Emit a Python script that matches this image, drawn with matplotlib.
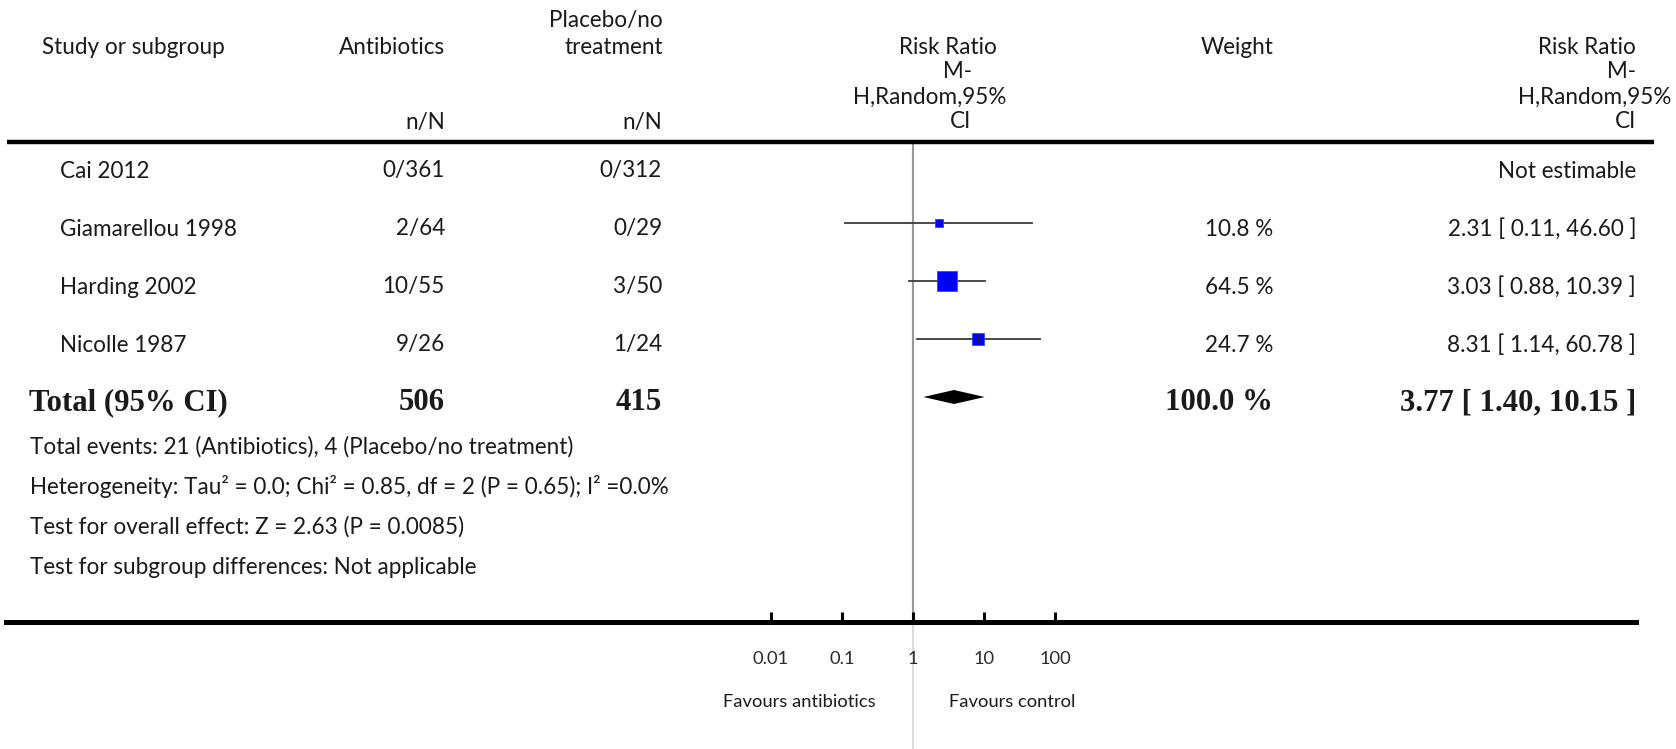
import matplotlib
matplotlib.use("Agg")
import matplotlib.pyplot as plt
import numpy as np

W, H = 1676, 749

# data
studies = ["Cai 2012", "Giamarellou 1998", "Harding 2002", "Nicolle 1987"]
abx_nN = ["0/361", "2/64", "10/55", "9/26"]
ctl_nN = ["0/312", "0/29", "3/50", "1/24"]
rr = [np.nan, 2.31, 3.03, 8.31]
rr_lo = [np.nan, 0.11, 0.88, 1.14]
rr_hi = [np.nan, 46.60, 10.39, 60.78]
weights = [np.nan, 10.8, 64.5, 24.7]
total_abx, total_ctl = 506, 415
total_weight = 100.0
total_rr, total_lo, total_hi = 3.77, 1.40, 10.15
ticks = [0.01, 0.1, 1, 10, 100]
tick_labels = ["0.01", "0.1", "1", "10", "100"]
notes = ["Total events: 21 (Antibiotics), 4 (Placebo/no treatment)",
         "Heterogeneity: Tau\u00b2 = 0.0; Chi\u00b2 = 0.85, df = 2 (P = 0.65); I\u00b2 =0.0%",
         "Test for overall effect: Z = 2.63 (P = 0.0085)",
         "Test for subgroup differences: Not applicable"]

SANS = "Lato"
SERIF = "Liberation Serif"
TXT = "#1a1a1a"

fig = plt.figure(figsize=(W / 100, H / 100), dpi=100)
rend = fig.canvas.get_renderer()


def fit_size(s, target, family, weight="normal"):
    t = fig.text(0, 0, s, fontsize=10, family=family, weight=weight)
    w = t.get_window_extent(rend).width
    t.remove()
    return 10 * target / w


fs = fit_size(notes[2], 434, SANS)
fs_bold = fit_size("Total (95% CI)", 198, SERIF, "bold")
fs_small = fit_size("Favours antibiotics", 153, SANS)

# forest panel: log x, 1 at 913 px, 71.2 px per decade; rows 58 px apart
x1, dec = 913, 71.2
row0, step = 165, 58
ax = fig.add_axes([0, 0, 1, 1])
ax.set_xscale("log")
ax.set_xlim(10 ** (-x1 / dec), 10 ** ((W - x1) / dec))
ax.set_ylim((H - row0) / step, -row0 / step)
ax.patch.set_alpha(0)
for s in ["top", "left", "right"]:
    ax.spines[s].set_visible(False)
ax.yaxis.set_visible(False)

y_axis = (622 - row0) / step
ax.spines["bottom"].set_position(("data", y_axis))
ax.spines["bottom"].set_linewidth(3.6)
ax.spines["bottom"].set_bounds(10 ** ((6 - x1) / dec), 10 ** ((1636 - x1) / dec))
ax.set_xticks(ticks)
ax.set_xticklabels(tick_labels)
ax.xaxis.set_minor_locator(matplotlib.ticker.NullLocator())
ax.tick_params(axis="x", direction="in", length=7, width=2.2, pad=21,
               labelsize=fs_small, labelcolor="#2b2b2b")
for lab in ax.get_xticklabels():
    lab.set_family(SANS)

# line of no effect
ax.vlines(1, (144 - row0) / step, y_axis, color="#9a9a9a", lw=1.5, zorder=1)
ax.vlines(1, y_axis, (H - row0) / step, color="#dcdcdc", lw=1.5, zorder=1)

for i in range(len(studies)):
    if np.isnan(rr[i]):
        continue
    ax.plot([rr_lo[i], rr_hi[i]], [i, i], color="#3a3a3a", lw=1.3, zorder=2)
    side = 2.6 * np.sqrt(weights[i]) * 0.72
    ax.scatter([rr[i]], [i], marker="s", s=side ** 2, color="#0000ff",
               edgecolors="#2a4cff", linewidths=0.6, zorder=3)
    ax.plot([rr[i]], [i], marker="|", ms=6, mew=1, color="#222222", zorder=4)

yt = len(studies)
hh = 7 / step
ax.fill([total_lo, total_rr, total_hi, total_rr], [yt, yt - hh, yt, yt + hh],
        color="black", lw=0, zorder=3)

# text layer in pixel coordinates
at = fig.add_axes([0, 0, 1, 1])
at.set_xlim(0, W)
at.set_ylim(H, 0)
at.axis("off")
at.patch.set_alpha(0)


def txt(x, y, s, ha="left", size=None, family=SANS, weight="normal"):
    at.text(x, y, s, ha=ha, va="center", fontsize=size or fs, family=family,
            weight=weight, color=TXT)


at.plot([7, 1654], [142, 142], color="black", lw=3.2, solid_capstyle="butt")

txt(42, 48, "Study or subgroup")
txt(445, 48, "Antibiotics", "right")
txt(663, 21, "Placebo/no", "right")
txt(663, 48, "treatment", "right")
txt(445, 122, "n/N", "right")
txt(662, 122, "n/N", "right")
txt(948, 47, "Risk Ratio", "center")
txt(957, 72, "M-", "center")
txt(930, 97, "H,Random,95%", "center")
txt(960, 122, "CI", "center")
txt(1274, 47, "Weight", "right")
txt(1636, 47, "Risk Ratio", "right")
txt(1636, 72, "M-", "right")
txt(1671, 97, "H,Random,95%", "right")
txt(1636, 122, "CI", "right")

for i in range(len(studies)):
    y = 171 + 58 * i
    txt(60, y, studies[i])
    txt(445, y, abx_nN[i], "right")
    txt(662, y, ctl_nN[i], "right")
    if np.isnan(rr[i]):
        txt(1636, y, "Not estimable", "right")
    else:
        txt(1273, y, f"{weights[i]:.1f} %", "right")
        txt(1636, y, f"{rr[i]:.2f} [ {rr_lo[i]:.2f}, {rr_hi[i]:.2f} ]", "right")

yT = 403
txt(29, yT, "Total (95% CI)", size=fs_bold, family=SERIF, weight="bold")
txt(445, yT, str(total_abx), "right", fs_bold, SERIF, "bold")
txt(662, yT, str(total_ctl), "right", fs_bold, SERIF, "bold")
txt(1273, yT, f"{total_weight:.1f} %", "right", fs_bold, SERIF, "bold")
txt(1636, yT, f"{total_rr:.2f} [ {total_lo:.2f}, {total_hi:.2f} ]", "right",
    fs_bold, SERIF, "bold")

for k, s in enumerate(notes):
    txt(30, 447 + 40 * k, s)

txt(876, 702, "Favours antibiotics", "right", fs_small)
txt(949, 702, "Favours control", "left", fs_small)

fig.savefig("out.png", dpi=100)
